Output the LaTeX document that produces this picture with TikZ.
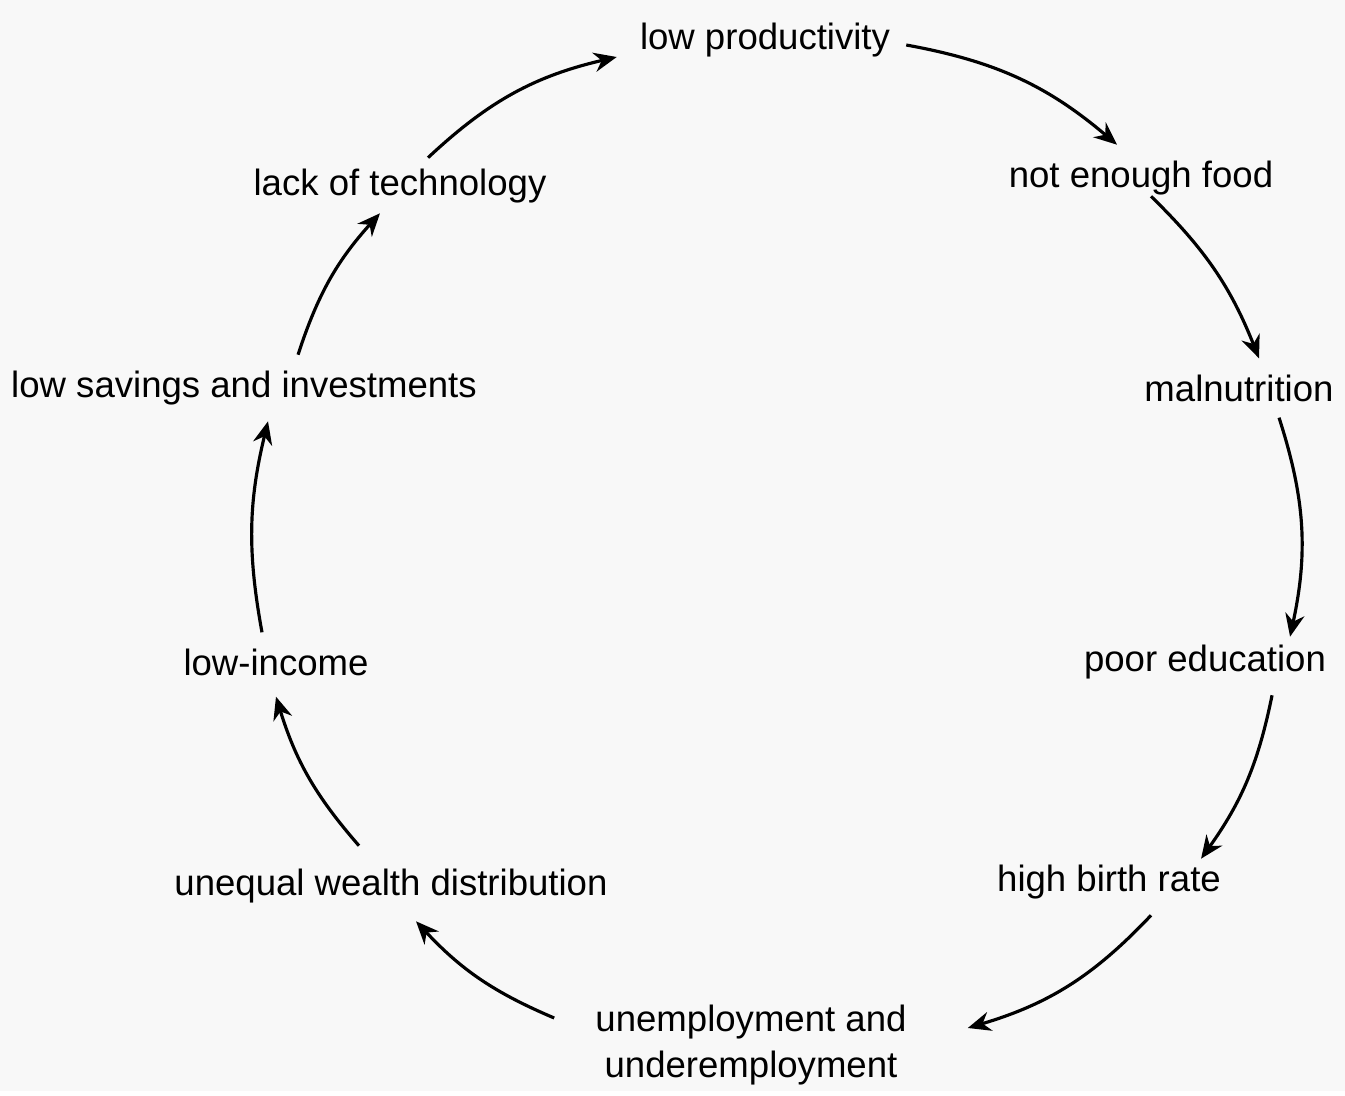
\documentclass[tikz,border=0pt]{standalone}
\usepackage{fontspec}
\setmainfont{Liberation Sans}
\usepackage{tikz}
\usetikzlibrary{arrows, arrows.meta}
\definecolor{paper}{RGB}{248,248,248}
\tikzstyle{factor} = [inner sep=3pt, align=center, text=black, font=\fontsize{10.4pt}{13pt}\selectfont]
\tikzstyle{arrow} = [line width=0.9pt,->,>={Stealth[length=6.5pt,width=5.5pt]}]

\begin{document}
\begin{tikzpicture}[x=0.01cm, y=-0.01cm]
\fill[paper] (0,0) rectangle (1345,1091);
\node (lowprod) [factor] at (765,40) {low productivity};
\node (food) [factor] at (1141,178) {not enough food};
\node (malnut) [factor] at (1239,388) {malnutrition};
\node (educ) [factor] at (1205,662) {poor education};
\node (birth) [factor] at (1109,882) {high birth rate};
\node (unemp) [factor] at (751,1045) {unemployment and\\underemployment};
\node (wealth) [factor] at (391,886) {unequal wealth distribution};
\node (income) [factor] at (276,662) {low-income};
\node (savings) [factor] at (244,388) {low savings and investments};
\node (tech) [factor] at (400,186) {lack of technology};

\draw [arrow] ([xshift=0.05cm,yshift=-0.05cm]lowprod.east) to[bend left=15] ([xshift=-0.24cm,yshift=0.05cm]food.north);
\draw [arrow] ([xshift=0.1cm,yshift=0.1cm]food.south) to[bend left=12] ([xshift=0.2cm,yshift=0.05cm]malnut.north);
\draw [arrow] ([xshift=0.4cm,yshift=-0.05cm]malnut.south) to[bend left=15] ([xshift=0.85cm,yshift=-0.03cm]educ.north);
\draw [arrow] ([xshift=0.67cm,yshift=-0.05cm]educ.south) to[bend left=12] ([xshift=0.92cm,yshift=-0.05cm]birth.north);
\draw [arrow] ([xshift=0.42cm,yshift=-0.05cm]birth.south) to[bend left=15] ([xshift=0.5cm,yshift=0.17cm]unemp.east);
\draw [arrow] ([xshift=-0.3cm,yshift=0.27cm]unemp.west) to[bend left=12] ([xshift=0.25cm,yshift=-0.07cm]wealth.south);
\draw [arrow] ([xshift=-0.32cm,yshift=0.12cm]wealth.north) to[bend left=12] ([yshift=-0.1cm]income.south);
\draw [arrow] ([xshift=-0.14cm,yshift=0.05cm]income.north) to[bend left=12] ([xshift=0.24cm,yshift=-0.05cm]savings.south);
\draw [arrow] ([xshift=0.54cm,yshift=0.05cm]savings.north) to[bend left=12] ([xshift=-0.2cm,yshift=0.01cm]tech.south);
\draw [arrow] ([xshift=0.28cm,yshift=0cm]tech.north) to[bend left=15] ([xshift=-0.12cm,yshift=-0.17cm]lowprod.west);
\end{tikzpicture}
\end{document}
